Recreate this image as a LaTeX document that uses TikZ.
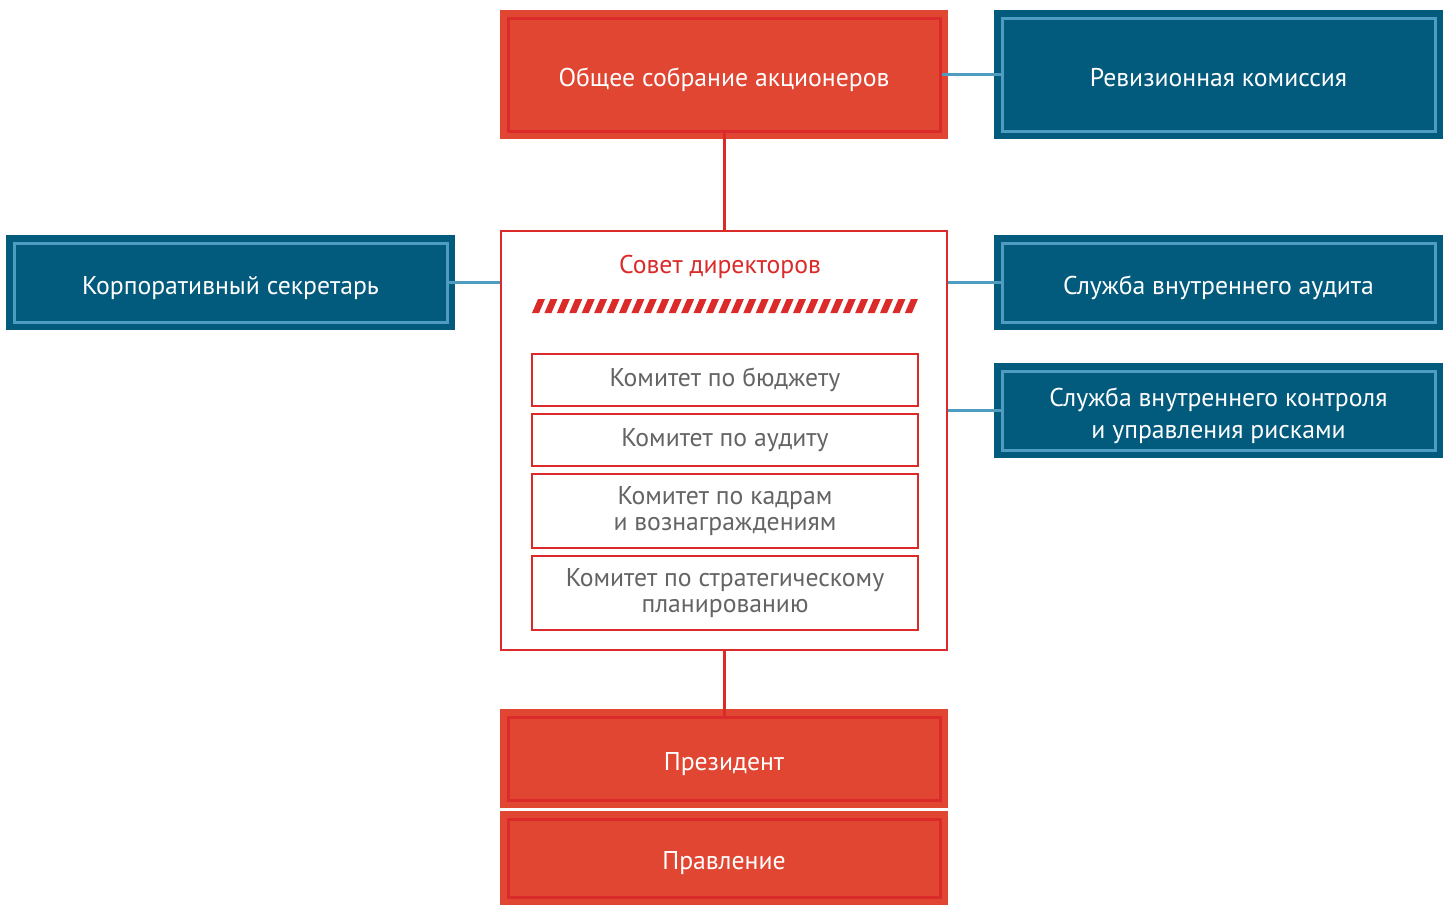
\documentclass[tikz,border=0pt]{standalone}
\usepackage{fontspec}
\setmainfont{PT Sans}
\definecolor{orgred}{RGB}{224,70,50}
\definecolor{orgredline}{RGB}{218,42,42}
\definecolor{orgblue}{RGB}{2,91,125}
\definecolor{orgblueline}{RGB}{78,157,192}
\definecolor{orggrey}{RGB}{100,100,100}

\begin{document}
\begin{tikzpicture}
  [x=1pt,y=-1pt,
   redbox/.style={rectangle,fill=orgred,draw=orgredline,line width=3pt,
     preaction={draw=orgred,line width=16pt},text=white,text height=23pt,text depth=0pt,
     font=\fontsize{25.7}{30}\selectfont,minimum width=432,inner sep=0pt},
   bluebox/.style={rectangle,fill=orgblue,draw=orgblueline,line width=3pt,
     preaction={draw=orgblue,line width=16pt},text=white,align=center,
     text height=23pt,text depth=0pt,
     font=\fontsize{25.7}{32}\selectfont,minimum width=433,inner sep=0pt},
   boardbox/.style={rectangle,draw=orgredline,line width=2pt,fill=white,
     minimum width=446,minimum height=419,inner sep=0pt},
   combox/.style={rectangle,draw=orgredline,line width=2.5pt,text=orggrey,
     align=center,font=\fontsize{25.7}{26.5}\selectfont,minimum width=386,inner sep=0pt},
   redline/.style={draw=orgredline,line width=3pt},
   blueline/.style={draw=orgblueline,line width=2.5pt}]
  \useasboundingbox (0,0) rectangle (1445,905);

  \node[redbox,minimum height=113] (gsm) at (724,74.5) {Общее собрание акционеров};
  \node[bluebox,minimum height=113] (rev) at (1218.5,74.5) {Ревизионная комиссия};
  \node[boardbox] (board) at (724,440.5) {};
  \node[bluebox,minimum height=79] (corp) at (230.5,282.5) {Корпоративный секретарь};
  \node[bluebox,minimum height=79] (audit) at (1218.5,282.5) {Служба внутреннего аудита};
  \node[bluebox,minimum height=79,text height=55pt] (ctrl) at (1218.5,410.5) {Служба внутреннего контроля\\и управления рисками};
  \node[redbox,minimum height=83] (pres) at (724,758.5) {Президент};
  \node[redbox,minimum height=78] (exec) at (724,858) {Правление};

  \node[text=orgredline,font=\fontsize{25.7}{30}\selectfont] (title) at (720,267) {Совет директоров};
  \foreach \i in {0,...,30}
    \fill[orgredline] ({532+\i*12.43},313) -- ++(7,0) -- ++(6,-14) -- ++(-7,0) -- cycle;

  \node[combox,minimum height=52] (c1) at (725,380) {Комитет по бюджету};
  \node[combox,minimum height=52] (c2) at (725,440) {Комитет по аудиту};
  \node[combox,minimum height=74] (c3) at (725,511) {Комитет по кадрам\\и вознаграждениям};
  \node[combox,minimum height=74] (c4) at (725,593) {Комитет по стратегическому\\планированию};

  \foreach \from/\to in {gsm/board,board/pres}
    \draw[redline] (\from.south) -- (\to.north);
  \draw[blueline] (gsm.east) -- (rev.west);
  \draw[blueline] (corp.east) -- (corp.east -| board.west);
  \draw[blueline] (board.east |- audit.west) -- (audit.west);
  \draw[blueline] (board.east |- ctrl.west) -- (ctrl.west);

\end{tikzpicture}
\end{document}
